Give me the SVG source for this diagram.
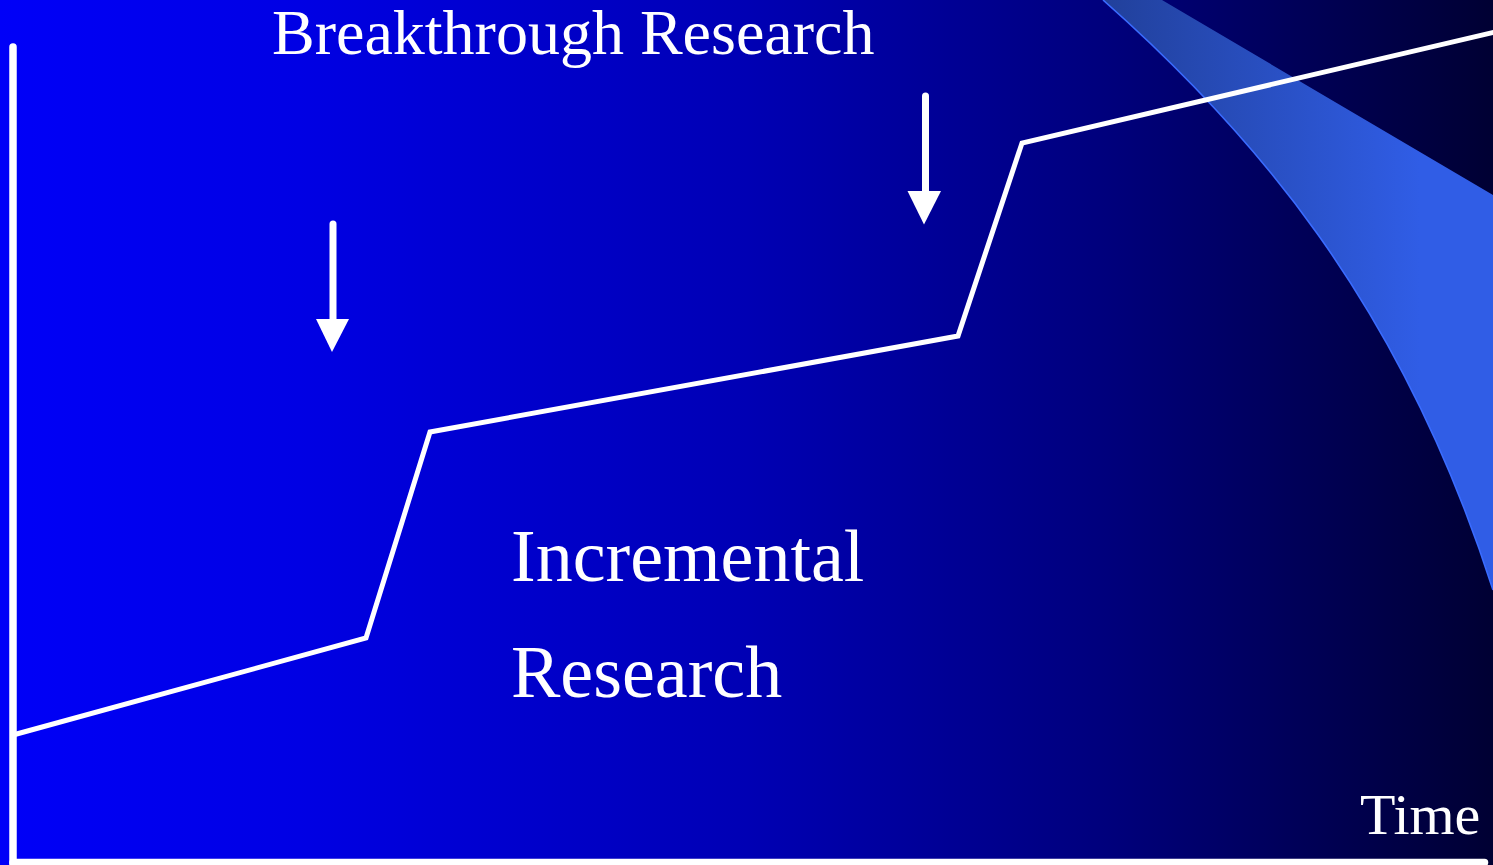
<svg xmlns="http://www.w3.org/2000/svg" width="1493" height="865" viewBox="0 0 1493 865">
  <defs>
    <linearGradient id="bg" x1="0" y1="0" x2="1493" y2="0" gradientUnits="userSpaceOnUse">
      <stop offset="0" stop-color="#0000f8"/>
      <stop offset="0.2" stop-color="#0000e4"/>
      <stop offset="0.5" stop-color="#0000b4"/>
      <stop offset="0.75" stop-color="#00007a"/>
      <stop offset="1" stop-color="#000033"/>
    </linearGradient>
    <linearGradient id="band" x1="1100" y1="0" x2="1420" y2="0" gradientUnits="userSpaceOnUse">
      <stop offset="0" stop-color="#21409a"/>
      <stop offset="1" stop-color="#305de6"/>
    </linearGradient>
    <marker id="head" viewBox="0 0 10 10" refX="0" refY="5" markerWidth="4.8" markerHeight="4.8" markerUnits="strokeWidth" orient="auto">
      <path d="M0,0 L10,5 L0,10 Z" fill="#ffffff"/>
    </marker>
    <style>
      .axis { fill: none; stroke: #ffffff; stroke-width: 7.5; stroke-linecap: round; }
      .trend { fill: none; stroke: #ffffff; stroke-width: 5; stroke-linejoin: miter; }
      .shaft { fill: none; stroke: #ffffff; stroke-width: 7; stroke-linecap: round; }
      .tip { fill: #ffffff; }
      .label { fill: #ffffff; font-family: "Liberation Serif", "Times New Roman", serif; }
    </style>
  </defs>

  <!-- background -->
  <rect x="0" y="0" width="1493" height="865" fill="url(#bg)"/>

  <!-- decorative swoosh, upper right -->
  <g id="swoosh">
    <path d="M1103,0 L1162,0 L1493,195 L1493,590 C1400,300 1250,130 1103,0 Z" fill="url(#band)"/>
    <path d="M1103,0 C1250,130 1400,300 1493,590" fill="none" stroke="#3a6cff" stroke-width="1.6"/>
  </g>

  <!-- axes -->
  <g id="axes">
    <line class="axis" x1="13" y1="47" x2="13" y2="866"/>
    <line class="axis" x1="13" y1="862.5" x2="1484.5" y2="862.5"/>
  </g>

  <!-- progress curve and breakthrough arrows -->
  <g id="connectors">
    <polyline id="progress" class="trend" points="13,735 366,638 430,432 958,336 1022,143 1495,32"/>
    <g id="arrow-1">
      <line class="shaft" x1="333" y1="224" x2="333" y2="322"/>
      <polygon class="tip" points="316,319 349,319 332,352"/>
    </g>
    <g id="arrow-2">
      <line class="shaft" x1="925.5" y1="96" x2="925.5" y2="194"/>
      <polygon class="tip" points="907.5,191 941,191 924,224.5"/>
    </g>
  </g>

  <!-- labels -->
  <g id="label-breakthrough">
    <text class="label" x="272" y="54" font-size="64">Breakthrough Research</text>
  </g>
  <g id="label-incremental">
    <text class="label" x="511" y="581" font-size="74">Incremental</text>
    <text class="label" x="511" y="697" font-size="74">Research</text>
  </g>
  <g id="label-time">
    <text class="label" x="1360" y="834" font-size="58">Time</text>
  </g>
</svg>
